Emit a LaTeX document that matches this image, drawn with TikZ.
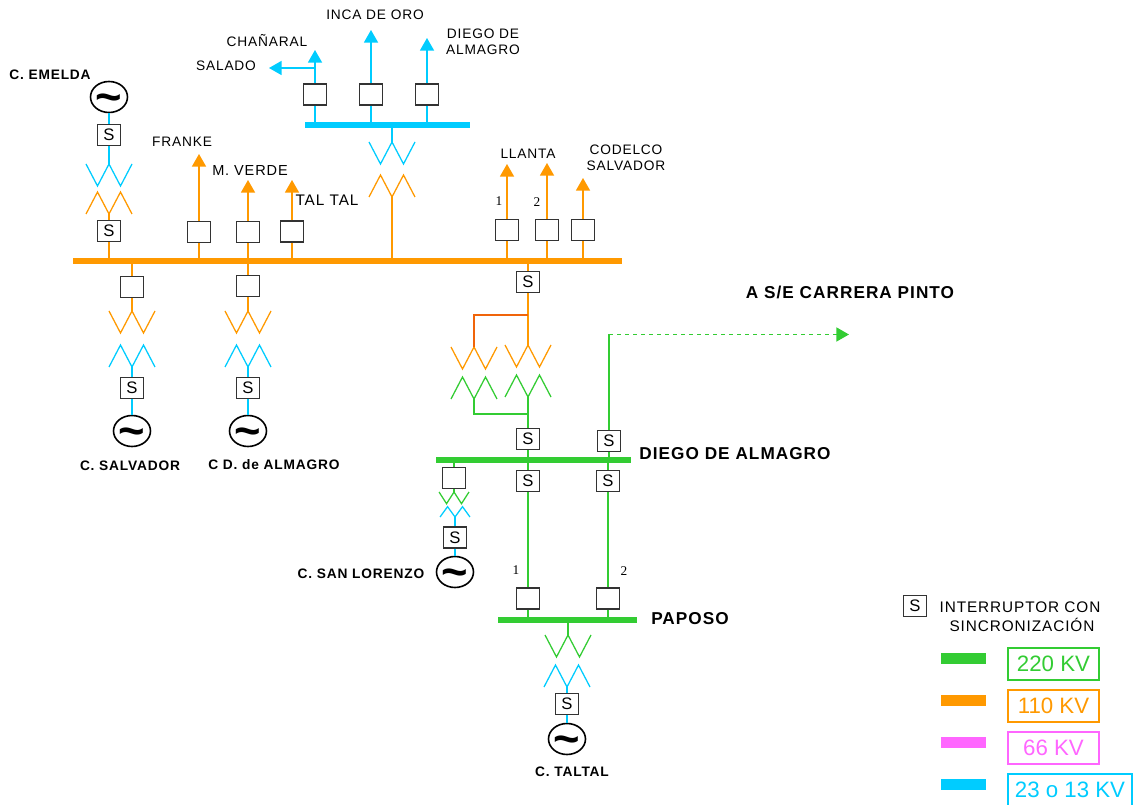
\documentclass[tikz,border=0pt]{standalone}
\usepackage{amsmath}
\usepackage{amssymb}
\usepackage{fontspec}
\setmainfont{Liberation Sans}
\newfontfamily\spacedfont[LetterSpace=6]{Liberation Sans}
\newfontfamily\numfont{Liberation Serif}
\usetikzlibrary{arrows.meta,shapes.geometric,positioning}
\usepackage{xcolor}
\definecolor{dfgreen}{RGB}{51,204,51}
\definecolor{dforange}{RGB}{255,153,0}
\definecolor{dfbranch}{RGB}{240,100,10}
\definecolor{dfpink}{RGB}{255,102,255}
\definecolor{dfblue}{RGB}{0,204,255}
\definecolor{dfbox}{RGB}{51,51,51}
\def\px{0.75pt}
\tikzstyle{feed} = [line width=0.95pt]
\tikzstyle{windline} = [line width=0.95pt, line join=miter]
\tikzstyle{feedtip} = [feed, -{Triangle[length=9.4pt,width=10.5pt]}]
\tikzstyle{sbox} = [rectangle, draw=dfbox, fill=white, line width=1.1pt, minimum width=23*\px, minimum height=21*\px, inner sep=0pt, font=\fontsize{12.5}{13}\selectfont]
\tikzstyle{gen} = [ellipse, draw=black, fill=white, line width=1.2pt, minimum width=37*\px, minimum height=31*\px, inner sep=0pt]
\tikzstyle{busbar} = [rectangle, inner sep=0pt, minimum height=5.5*\px]
\tikzstyle{swatch} = [rectangle, inner sep=0pt, minimum width=45*\px, minimum height=11*\px]
\tikzstyle{kvbox} = [rectangle, line width=1pt, fill=white, inner sep=0pt, minimum width=91*\px, minimum height=32*\px, font=\fontsize{16.7}{18}\selectfont]
\tikzstyle{lbl} = [inner sep=0pt, align=center, font=\fontsize{10.3}{12}\spacedfont]
\tikzstyle{biglbl} = [lbl, font=\fontsize{11.5}{13}\spacedfont]
\tikzstyle{genlbl} = [inner sep=0pt, font=\fontsize{10.3}{12}\spacedfont\bfseries]
\tikzstyle{statlbl} = [inner sep=0pt, font=\fontsize{12.9}{14}\spacedfont\bfseries]
\tikzstyle{numlbl} = [inner sep=0pt, font=\fontsize{10}{12}\numfont]
\newcommand{\genmark}{\makebox[0pt]{\raisebox{-11.3pt}[0pt][0pt]{\fontsize{34}{34}\selectfont\bfseries\textasciitilde}}}
\newcommand{\windW}[2]{\draw[windline,#2] (#1) ++(-23,0) -- ++(11.5,22) -- ++(11.5,-22) -- ++(11.5,22) -- ++(11.5,-22);}
\newcommand{\windM}[2]{\draw[windline,#2] (#1) ++(-23,0) -- ++(11.5,-22) -- ++(11.5,22) -- ++(11.5,-22) -- ++(11.5,22);}
\begin{document}
\begin{tikzpicture}[x=0.75pt, y=-0.75pt]
\useasboundingbox (0,0) rectangle (1140,805);

% Buses
\node (busblue) [busbar, fill=dfblue, minimum width=165*\px] at (387.5,125) {};
\node (busorange) [busbar, fill=dforange, minimum width=549*\px, minimum height=6*\px] at (347.5,261) {};
\node (busdiego) [busbar, fill=dfgreen, minimum width=195*\px] at (533.5,460) {};
\node (buspaposo) [busbar, fill=dfgreen, minimum width=139*\px, minimum height=6*\px] at (567.5,620) {};

% C. Emelda
\node (genemelda) [gen] at (109,97) {\genmark};
\node (semeldaa) [sbox] at (109,135) {S};
\node (semeldab) [sbox] at (109,231) {S};
\coordinate (wemelda) at (109,164);
\coordinate (memelda) at (109,214);
\windW{wemelda}{dfblue}
\windM{memelda}{dforange}
\draw[feed, dfblue] (genemelda) -- (semeldaa);
\draw[feed, dfblue] (semeldaa) -- (wemelda);
\draw[feed, dforange] (memelda) -- (semeldab);
\draw[feed, dforange] (semeldab) -- (semeldab.south |- busorange.north);

% Orange feeders on top of the bus
\node (bfranke) [sbox] at (199,232) {};
\node (bverde) [sbox] at (248,232) {};
\node (btaltal) [sbox] at (292,231.5) {};
\coordinate (tipfranke) at (199,154);
\coordinate (tipverde) at (248,180);
\coordinate (tiptaltal) at (292,180);
\foreach \bx/\tp in {bfranke/tipfranke,bverde/tipverde,btaltal/tiptaltal} {
  \draw[feedtip, dforange] (\bx) -- (\tp);
  \draw[feed, dforange] (\bx) -- (\bx.south |- busorange.north);
}
\node (bllantaa) [sbox] at (507,230) {};
\node (bllantab) [sbox] at (547,230) {};
\node (bcodelco) [sbox] at (583,230) {};
\coordinate (tipllantaa) at (507,164);
\coordinate (tipllantab) at (547,163);
\coordinate (tipcodelco) at (583,178);
\foreach \bx/\tp in {bllantaa/tipllantaa,bllantab/tipllantab,bcodelco/tipcodelco} {
  \draw[feedtip, dforange] (\bx) -- (\tp);
  \draw[feed, dforange] (\bx) -- (\bx.south |- busorange.north);
}

% Blue feeders
\node (bchanaral) [sbox] at (315,94.5) {};
\node (binca) [sbox] at (371,94.5) {};
\node (bdiego) [sbox] at (427,94.5) {};
\coordinate (tipchanaral) at (315,50);
\coordinate (tipinca) at (371,30);
\coordinate (tipdiego) at (427,38);
\coordinate (forksalado) at (315,68);
\coordinate (tipsalado) at (269,68);
\foreach \bx/\tp in {bchanaral/tipchanaral,binca/tipinca,bdiego/tipdiego} {
  \draw[feedtip, dfblue] (\bx) -- (\tp);
  \draw[feed, dfblue] (\bx) -- (\bx.south |- busblue.north);
}
\draw[feedtip, dfblue] (forksalado) -- (tipsalado);

% Transformer between 23 kV and 110 kV
\coordinate (wblue) at (392,142);
\coordinate (mblue) at (392,197);
\windW{wblue}{dfblue}
\windM{mblue}{dforange}
\draw[feed, dfblue] (wblue |- busblue.south) -- (wblue);
\draw[feed, dforange] (mblue) -- (mblue |- busorange.north);

% C. Salvador and C D. de Almagro
\node (bsalvador) [sbox] at (132,287) {};
\node (ssalvador) [sbox] at (132,388) {S};
\node (gensalvador) [gen] at (132,431) {\genmark};
\coordinate (wsalvador) at (132,311);
\coordinate (msalvador) at (132,367);
\windW{wsalvador}{dforange}
\windM{msalvador}{dfblue}
\node (balmagro) [sbox] at (248,286) {};
\node (salmagro) [sbox] at (248,388) {S};
\node (genalmagro) [gen] at (248,431) {\genmark};
\coordinate (walmagro) at (248,311);
\coordinate (malmagro) at (248,367);
\windW{walmagro}{dforange}
\windM{malmagro}{dfblue}
\foreach \bx/\wn/\mn/\sn/\gn in {bsalvador/wsalvador/msalvador/ssalvador/gensalvador,balmagro/walmagro/malmagro/salmagro/genalmagro} {
  \draw[feed, dforange] (\bx.north |- busorange.south) -- (\bx);
  \draw[feed, dforange] (\bx) -- (\wn);
  \draw[feed, dfblue] (\mn) -- (\sn);
  \draw[feed, dfblue] (\sn) -- (\gn);
}

% 110/220 kV transformers
\node (sorange) [sbox] at (528,282) {S};
\node (sgreena) [sbox] at (528,439) {S};
\node (sgreenb) [sbox] at (609,441) {S};
\coordinate (wright) at (528,345);
\coordinate (wleft) at (474,347);
\coordinate (forkorange) at (528,315);
\coordinate (mright) at (528,397);
\coordinate (mleft) at (474,399);
\coordinate (forkgreen) at (528,414);
\windW{wleft}{dforange}
\windW{wright}{dforange}
\windM{mleft}{dfgreen}
\windM{mright}{dfgreen}
\draw[feed, dforange] (sorange.north |- busorange.south) -- (sorange);
\draw[feed, dforange] (sorange) -- (wright);
\draw[feed, dfbranch] (forkorange) -| (wleft);
\draw[feed, dfgreen] (mleft) |- (forkgreen);
\draw[feed, dfgreen] (mright) -- (sgreena);
\draw[feed, dfgreen] (sgreena) -- (sgreena.south |- busdiego.north);
\draw[feed, dfgreen] (sgreenb) -- (sgreenb.south |- busdiego.north);

% Line to Carrera Pinto
\coordinate (cornerpinto) at (609,334.5);
\coordinate (tippinto) at (849,334.5);
\draw[feed, dfgreen] (sgreenb) -- (cornerpinto);
\draw[feedtip, dfgreen, dashed] (cornerpinto) -- (tippinto);

% Diego de Almagro to Paposo
\node (sdiegoa) [sbox] at (528,481) {S};
\node (sdiegob) [sbox] at (608,481) {S};
\node (bpaposoa) [sbox] at (528,598.5) {};
\node (bpaposob) [sbox] at (608,598.5) {};
\foreach \sn/\bx in {sdiegoa/bpaposoa,sdiegob/bpaposob} {
  \draw[feed, dfgreen] (\sn.north |- busdiego.south) -- (\sn);
  \draw[feed, dfgreen] (\sn) -- (\bx);
  \draw[feed, dfgreen] (\bx) -- (\bx.south |- buspaposo.north);
}

% C. San Lorenzo
\node (blorenzo) [sbox] at (454,478) {};
\node (slorenzo) [sbox] at (455,537.5) {S};
\node (genlorenzo) [gen] at (455,572) {\genmark};
\coordinate (wlorenzo) at (454,492);
\coordinate (mlorenzo) at (455,517);
\windW{wlorenzo}{dfgreen, xscale=0.65, yscale=0.53}
\windM{mlorenzo}{dfblue, xscale=0.65, yscale=0.47}
\draw[feed, dfgreen] (blorenzo.north |- busdiego.south) -- (blorenzo);
\draw[feed, dfgreen] (blorenzo) -- (wlorenzo);
\draw[feed, dfblue] (mlorenzo) -- (slorenzo);
\draw[feed, dfblue] (slorenzo) -- (genlorenzo);

% C. Taltal
\node (staltal) [sbox] at (567,704) {S};
\node (gentaltal) [gen] at (567,739) {\genmark};
\coordinate (wtaltal) at (568,635);
\coordinate (mtaltal) at (567,687);
\windW{wtaltal}{dfgreen}
\windM{mtaltal}{dfblue}
\draw[feed, dfgreen] (wtaltal |- buspaposo.south) -- (wtaltal);
\draw[feed, dfblue] (mtaltal) -- (staltal);
\draw[feed, dfblue] (staltal) -- (gentaltal);

% Labels
\node (lemelda) [genlbl] at (50,75) {C. EMELDA};
\node (lsalvador) [genlbl] at (130,466) {C. SALVADOR};
\node (lalmagro) [genlbl] at (274,465) {C D. de ALMAGRO};
\node (llorenzo) [genlbl] at (361,574) {C. SAN LORENZO};
\node (ltaltal) [genlbl] at (572,772) {C. TALTAL};
\node (ldiego) [statlbl] at (735,454) {DIEGO DE ALMAGRO};
\node (lpaposo) [statlbl] at (690,619) {PAPOSO};
\node (lpinto) [statlbl] at (850,292) {A S/E CARRERA PINTO};
\node (lchanaral) [lbl] at (267,41) {CHAÑARAL};
\node (lsalado) [lbl] at (226,66) {SALADO};
\node (linca) [lbl] at (375,15) {INCA DE ORO};
\node (ldiegoal) [lbl] at (483,42) {DIEGO DE\\ALMAGRO};
\node (lfranke) [lbl] at (182,142) {FRANKE};
\node (lverde) [lbl, font=\fontsize{10.9}{12}\spacedfont] at (250,171) {M. VERDE};
\node (ltal) [biglbl] at (327,200) {TAL TAL};
\node (lllanta) [lbl] at (528,154) {LLANTA};
\node (lcodelco) [lbl] at (626,158) {CODELCO\\SALVADOR};
\node (lnuma) [numlbl] at (499,201) {1};
\node (lnumb) [numlbl] at (537,202) {2};
\node (lnumc) [numlbl] at (516,570) {1};
\node (lnumd) [numlbl] at (624,571) {2};

% Legend
\node (slegend) [sbox] at (915,606) {S};
\node (lintera) [biglbl] at (1020,607) {INTERRUPTOR CON};
\node (linterb) [biglbl] at (1022,625) {SINCRONIZACIÓN};
\node (swgreen) [swatch, fill=dfgreen] at (963.5,658.5) {};
\node (sworange) [swatch, fill=dforange] at (963.5,700.5) {};
\node (swpink) [swatch, fill=dfpink] at (963.5,742.5) {};
\node (swblue) [swatch, fill=dfblue] at (963.5,784.5) {};
\node (kvgreen) [kvbox, draw=dfgreen, text=dfgreen] at (1053.5,664) {220 KV};
\node (kvorange) [kvbox, draw=dforange, text=dforange] at (1053.5,706) {110 KV};
\node (kvpink) [kvbox, draw=dfpink, text=dfpink] at (1053.5,748) {66 KV};
\node (kvblue) [kvbox, draw=dfblue, text=dfblue, minimum width=124*\px] at (1070,790) {23 o 13 KV};
\end{tikzpicture}
\end{document}
